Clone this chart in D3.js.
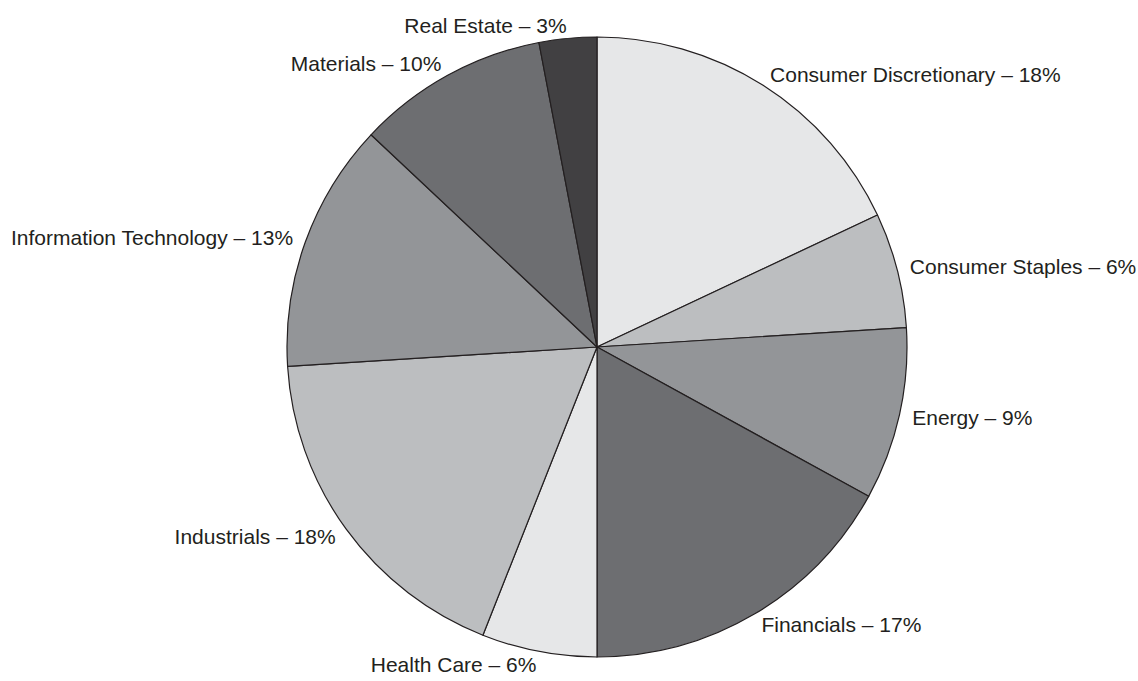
<!DOCTYPE html>
<html>
<head>
<meta charset="utf-8">
<script src="https://cdn.jsdelivr.net/npm/d3@7"></script>
<style>
  body { margin: 0; background: #fff; }
  svg { display: block; }
</style>
</head>
<body>
<svg></svg>
<script>
// chart size
var width = 1138;
var height = 681;

// data: sectors, clockwise from 12 o'clock
var sectors = ['Consumer Discretionary', 'Consumer Staples', 'Energy', 'Financials',
  'Health Care', 'Industrials', 'Information Technology', 'Materials', 'Real Estate'];
var shares = [18, 6, 9, 17, 6, 18, 13, 10, 3];
var fills = ['#e6e7e8', '#bcbec0', '#939598', '#6d6e71', '#e6e7e8',
  '#bcbec0', '#939598', '#6d6e71', '#414042'];

var cx = 597, cy = 347;
var radius = 310;
var labelRadius = 323;

var pieData = sectors.map((s, i) => ({ name: s, value: shares[i], fill: fills[i] }));

var pie = d3.pie().sort(null).value(d => d.value);
var arc = d3.arc().innerRadius(0).outerRadius(radius);

var svg = d3.select('svg')
  .attr('width', width)
  .attr('height', height);

var g = svg.append('g')
  .attr('transform', 'translate(' + cx + ',' + cy + ')');

var arcs = pie(pieData);

g.selectAll('path')
  .data(arcs)
  .enter()
    .append('path')
      .attr('d', arc)
      .attr('fill', d => d.data.fill)
      .attr('stroke', '#231f20')
      .attr('stroke-width', 1.2)
      .attr('stroke-linejoin', 'round');

// labels sit just outside the rim at each slice's mid angle
g.selectAll('text')
  .data(arcs)
  .enter()
    .append('text')
      .attr('x', d => labelRadius * Math.sin((d.startAngle + d.endAngle) / 2))
      .attr('y', d => -labelRadius * Math.cos((d.startAngle + d.endAngle) / 2))
      .attr('dy', '0.35em')
      .attr('text-anchor', d => Math.sin((d.startAngle + d.endAngle) / 2) >= 0 ? 'start' : 'end')
      .attr('font-family', '"Liberation Sans", Arial, Helvetica, sans-serif')
      .attr('font-size', 21)
      .attr('fill', '#231f20')
      .text(d => d.data.name + ' \u2013 ' + d.data.value + '%');
</script>
</body>
</html>
